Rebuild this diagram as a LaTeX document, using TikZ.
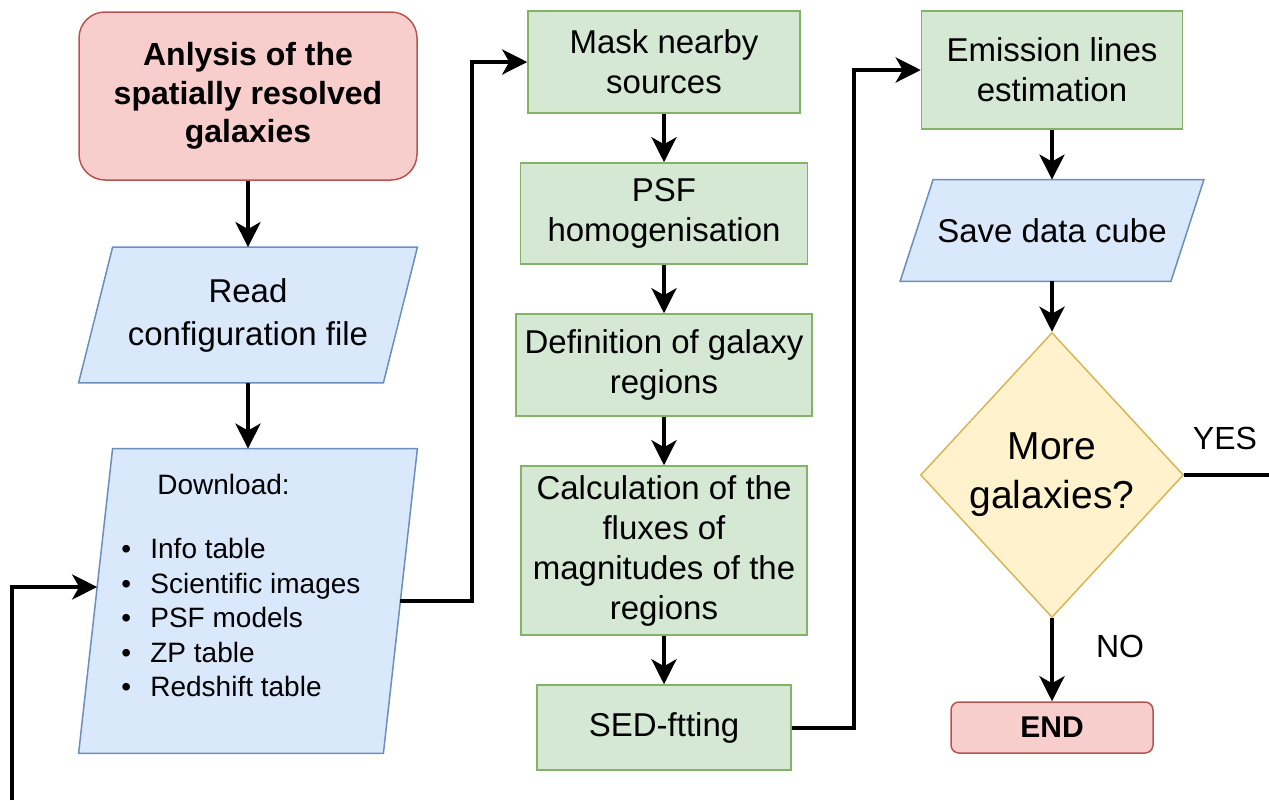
\documentclass[tikz,border=0pt]{standalone}
\usepackage{fontspec}
\setmainfont{Liberation Sans}
\usetikzlibrary{shapes.geometric,arrows.meta,calc,backgrounds}
\definecolor{FlowStartFill}{HTML}{F8CECC}
\definecolor{FlowStartLine}{HTML}{B85450}
\definecolor{FlowInputFill}{HTML}{DAE8FC}
\definecolor{FlowInputLine}{HTML}{6C8EBF}
\definecolor{FlowStepFill}{HTML}{D5E8D4}
\definecolor{FlowStepLine}{HTML}{82B366}
\definecolor{FlowTestFill}{HTML}{FFF2CC}
\definecolor{FlowTestLine}{HTML}{D6B656}

\begin{document}
\begin{tikzpicture}[x=0.5pt,y=-0.5pt,
    txt/.style={font=\fontsize{16.5pt}{20pt}\selectfont,align=center},
    startbox/.style={draw=FlowStartLine,fill=FlowStartFill,line width=0.75pt,inner sep=0pt,align=center},
    iobox/.style={rectangle,inner sep=0pt},
    ioshape/.style={draw=FlowInputLine,fill=FlowInputFill,line width=0.75pt},
    stepbox/.style={draw=FlowStepLine,fill=FlowStepFill,line width=0.75pt,inner sep=0pt,txt},
    testbox/.style={diamond,draw=FlowTestLine,fill=FlowTestFill,line width=0.75pt,inner sep=0pt,align=center},
    flow/.style={line width=2pt,-{Stealth[length=12.5pt,width=12.5pt,inset=3.5pt]}}]
    \useasboundingbox (0,0) rectangle (1269,800);

    \node[startbox,rounded corners=13pt,minimum width=169pt,minimum height=84pt,
      font=\bfseries\fontsize{16pt}{19.25pt}\selectfont] (start) at (248,96)
      {Anlysis of the\\spatially resolved\\galaxies};
    \node[iobox,minimum width=169pt,minimum height=67.5pt,txt,
      font=\fontsize{16.5pt}{21.5pt}\selectfont] (read) at (248,315)
      {Read\\configuration file};
    \node[iobox,minimum width=169pt,minimum height=152pt] (dl) at (248,601) {};
    \node[anchor=north west,inner sep=0pt,align=left,font=\fontsize{14pt}{17.25pt}\selectfont]
      (dlitems) at (121,473.5)
      {\hspace*{18pt}Download:\\[15pt]
       \makebox[14.5pt][l]{\textbullet}Info table\\
       \makebox[14.5pt][l]{\textbullet}Scientific images\\
       \makebox[14.5pt][l]{\textbullet}PSF models\\
       \makebox[14.5pt][l]{\textbullet}ZP table\\
       \makebox[14.5pt][l]{\textbullet}Redshift table};

    \node[stepbox,minimum width=136pt,minimum height=51pt] (mask) at (664,62) {Mask nearby\\sources};
    \node[stepbox,minimum width=143.5pt,minimum height=50.5pt] (psf) at (664,213.5) {PSF\\homogenisation};
    \node[stepbox,minimum width=148pt,minimum height=51pt] (def) at (664,365) {Definition of galaxy\\regions};
    \node[stepbox,minimum width=143pt,minimum height=84.5pt] (calc) at (664,550.5)
      {Calculation of the\\fluxes of\\magnitudes of the\\regions};
    \node[stepbox,minimum width=127pt,minimum height=42.5pt] (sed) at (664,727.5) {SED-ftting};

    \node[stepbox,minimum width=130.5pt,minimum height=59pt] (emis) at (1052,70) {Emission lines\\estimation};
    \node[iobox,minimum width=151.5pt,minimum height=50.5pt,txt] (save) at (1052,230.5) {Save data cube};
    \node[testbox,minimum width=131.5pt,minimum height=142.5pt,
      font=\fontsize{19.5pt}{24.5pt}\selectfont] (more) at (1052,475) {More\\galaxies?};
    \node[startbox,rounded corners=4pt,minimum width=101pt,minimum height=25.5pt,
      font=\bfseries\fontsize{15pt}{18pt}\selectfont] (stop) at (1052,727.5) {END};

    \node[font=\fontsize{16pt}{19pt}\selectfont] (yes) at (1225,438) {YES};
    \node[font=\fontsize{16pt}{19pt}\selectfont] (no) at (1120,646) {NO};

    \begin{scope}[on background layer]
      \foreach \n/\s in {read/17pt,dl/17pt,save/16.5pt}
        \draw[ioshape] ([xshift=\s]\n.north west) -- (\n.north east)
          -- ([xshift=-\s]\n.south east) -- (\n.south west) -- cycle;
    \end{scope}

    \coordinate (yesend) at (1269,475);
    \coordinate (loopstart) at (12,800);
    \coordinate (loopin) at ($([xshift=17pt]dl.north west)!0.454!(dl.south west)$);

    \foreach \from/\to in {start/read,read/dl,mask/psf,psf/def,def/calc,calc/sed,emis/save,save/more,more/stop}
      \draw[flow] (\from.south) -- (\to.north);
    \draw[flow] ([xshift=-8.5pt]dl.east) -| ([xshift=-27.75pt]mask.west) -- (mask.west);
    \draw[flow] (sed.east) -| ([xshift=-33.5pt]emis.west) -- (emis.west);
    \draw[line width=2pt] (more.east) -- (yesend);
    \draw[flow] (loopstart) |- (loopin);
  \end{tikzpicture}
\end{document}
